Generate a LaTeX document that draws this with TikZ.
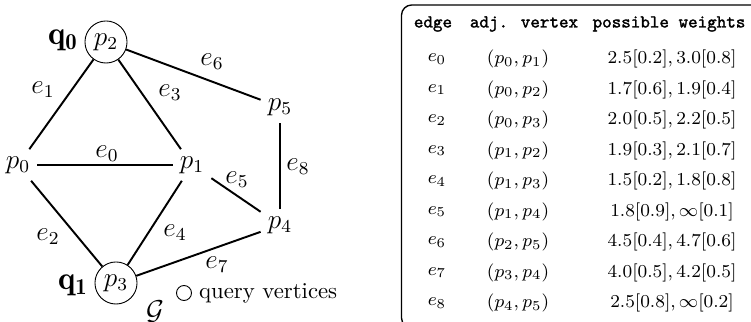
\documentclass[tikz,border=0pt]{standalone}
\usepackage{amssymb}
\usepackage{fontspec}
\newfontfamily\hdrfont[FakeBold=1.6]{lmmono10-regular.otf}
\usetikzlibrary{positioning}

\begin{document}
\begin{tikzpicture}[x=0.01545cm,y=-0.01545cm,
  vtx/.style={inner sep=3pt,font=\large},
  qvtx/.style={draw,circle,inner sep=0pt,minimum size=18.5pt,font=\large},
  qlbl/.style={font=\Large},
  elbl/.style={font=\large},
  edg/.style={line width=0.85pt},
  hdr/.style={font=\hdrfont\fontsize{8}{10}\selectfont,inner sep=1pt},
  cell/.style={inner sep=1pt,font=\fontsize{8.2}{10}\selectfont}]
\useasboundingbox (0,0) rectangle (751,322);
% graph G
\node[qvtx] (P2) at (106,42) {$p_2$};
\node[qvtx] (P3) at (116,283) {$p_3$};
\node[vtx] (P0) at (18,165) {$p_0$};
\node[vtx] (P1) at (192,165) {$p_1$};
\node[vtx] (P5) at (280,107) {$p_5$};
\node[vtx] (P4) at (280,225) {$p_4$};
\node[qlbl] (Q0) at (63,40) {$\mathbf{q_0}$};
\node[qlbl] (Q1) at (73,285) {$\mathbf{q_1}$};
\draw[edg] (P0) -- (P1);
\draw[edg] (P0) -- (P2);
\draw[edg] (P0) -- (P3);
\draw[edg] (P1) -- (P2);
\draw[edg] (P1) -- (P3);
\draw[edg] (P1) -- (P4);
\draw[edg] (P2) -- (P5);
\draw[edg] (P3) -- (P4);
\draw[edg] (P4) -- (P5);
\node[elbl] (E0) at (107,154) {$e_0$};
\node[elbl] (E1) at (43,90) {$e_1$};
\node[elbl] (E2) at (48,237) {$e_2$};
\node[elbl] (E3) at (170,93) {$e_3$};
\node[elbl] (E4) at (175,233) {$e_4$};
\node[elbl] (E5) at (237,180) {$e_5$};
\node[elbl] (E6) at (212,62) {$e_6$};
\node[elbl] (E7) at (217,265) {$e_7$};
\node[elbl] (E8) at (298,167) {$e_8$};
\node[elbl] (G) at (155,312) {$\mathcal{G}$};
% legend
\node[draw,circle,inner sep=0pt,minimum size=6.6pt] (LgC) at (184,293) {};
\node[right=2pt of LgC,inner sep=1pt] (LgT) {query vertices};
% table of edges
\begin{scope}
\clip (0,0) rectangle (751,322);
\draw[line width=0.6pt,rounded corners=4.5pt] (760,5) -- (401.5,5) -- (401.5,328) -- (760,328);
\end{scope}
\node[hdr] (H1) at (433,24) {edge};
\node[hdr] (H2) at (524,24) {adj. vertex};
\node[hdr] (H3) at (669,24) {possible weights};
\foreach \i/\a/\b/\w in {0/0/1/{2.5[0.2], 3.0[0.8]},
                         1/0/2/{1.7[0.6], 1.9[0.4]},
                         2/0/3/{2.0[0.5], 2.2[0.5]},
                         3/1/2/{1.9[0.3], 2.1[0.7]},
                         4/1/3/{1.5[0.2], 1.8[0.8]},
                         5/1/4/{1.8[0.9], \infty[0.1]},
                         6/2/5/{4.5[0.4], 4.7[0.6]},
                         7/3/4/{4.0[0.5], 4.2[0.5]},
                         8/4/5/{2.5[0.8], \infty[0.2]}}{
  \node[cell] (R\i e) at (437,59+30.5*\i) {$e_\i$};
  \node[cell] (R\i v) at (518,59+30.5*\i) {$(p_\a, p_\b)$};
  \node[cell] (R\i w) at (672,59+30.5*\i) {$\w$};
}
\end{tikzpicture}
\end{document}
